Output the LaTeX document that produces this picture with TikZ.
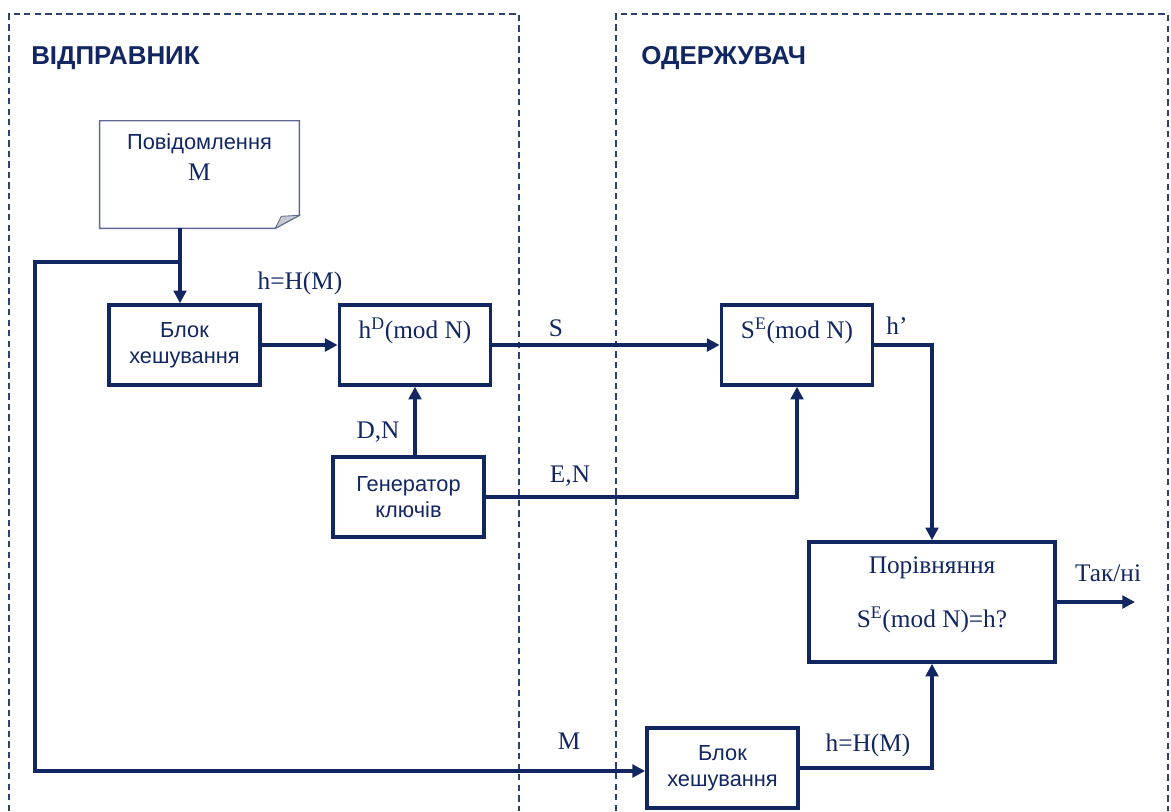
\documentclass[tikz,border=0pt]{standalone}
\usepackage{fontspec}
\setmainfont{Liberation Serif}
\newfontfamily\arialf{Liberation Sans}
\usetikzlibrary{arrows.meta,calc,positioning}
\definecolor{navy}{RGB}{18,38,98}
\definecolor{zonec}{RGB}{45,65,115}
\definecolor{paper}{RGB}{95,105,145}
\definecolor{foldc}{RGB}{200,202,210}
\tikzset{
  box/.style={draw=navy,line width=2.5pt,minimum width=3.78cm,minimum height=2cm,inner sep=0pt},
  doc/.style={minimum width=4.975cm,minimum height=2.675cm,inner sep=0pt},
  link/.style={navy,line width=2.6pt},
  arr/.style={link,-{Triangle[length=9pt,width=9pt]}},
  zone/.style={zonec,line width=1.2pt,dash pattern=on 4.5pt off 3pt},
  lbl/.style={text=navy,font=\fontsize{18}{21}\selectfont},
  slbl/.style={text=navy,font=\arialf\fontsize{15.5}{18.5}\selectfont,align=center},
  title/.style={text=navy,font=\arialf\bfseries\fontsize{18.4}{21}\selectfont,anchor=base west,inner sep=0pt},
}

\begin{document}
\begin{tikzpicture}[x={(0.025cm,0)},y={(0,-0.025cm)}]
    \useasboundingbox (0,0) rectangle (1171,811);
    % --- zones: sender and receiver ---
    \draw[zone] (9,811) -- (9,14) -- (519,14) -- (519,811);
    \draw[zone] (616,811) -- (616,14) -- (1168,14) -- (1168,811);
    \node[title] (sendt) at (31,64) {ВІДПРАВНИК};
    \node[title] (recvt) at (641,64) {ОДЕРЖУВАЧ};
    % --- sender side ---
    \begin{scope}
      \node[doc,label={[slbl,anchor=north,yshift=-6pt]north:{Повідомлення\\[3pt]{\rmfamily\fontsize{18}{21}\selectfont M}}}] (msg) at (199.5,174.5) {};
      \draw[paper,line width=1pt] (msg.north west) -- (msg.north east) -- ($(msg.south east)+(0,-13)$)
            -- ($(msg.south east)+(-24,0)$) -- (msg.south west) -- cycle;
      \fill[foldc,draw=paper,line width=0.6pt] ($(msg.south east)+(0,-13)$) -- ($(msg.south east)+(-24,0)$)
            -- ($(msg.south east)+(-18,-12)$) -- cycle;
      \node[box,slbl] (hash1) at (184.5,345) {Блок\\хешування};
      \node[box,label={[lbl,anchor=north,yshift=-7pt]north:{h\textsuperscript{D}(mod N)}}] (pow) at (415,345) {};
      \node[box,slbl] (gen) at (408.5,497) {Генератор\\ключів};
      \coordinate (split) at (180,262);
      \coordinate (lt) at (35,262);
      \coordinate (lb) at (35,771);
    \end{scope}
    % --- receiver side ---
    \begin{scope}
      \node[box,label={[lbl,anchor=north,yshift=-7pt]north:{S\textsuperscript{E}(mod N)}}] (ver) at (797,345) {};
      \node[box,minimum width=6.15cm,minimum height=3cm,
            label={[lbl,align=center,yshift=5pt]center:{Порівняння\\[17pt]S\textsuperscript{E}(mod N)=h?}}] (cmp) at (932,602) {};
      \node[box,slbl] (hash2) at (722.5,768) {Блок\\хешування};
      \coordinate (out) at (1135,602);
    \end{scope}
    % --- connectors ---
    \draw[link] (msg.south -| split) -- (split);
    \draw[arr] (split) -- (split |- hash1.north);
    \draw[arr] (split) -- (lt) -- (lb) -- (lb -| hash2.west);
    \draw[arr] (hash1.east) -- (pow.west);
    \draw[arr] (pow.east) -- (ver.west);
    \draw[arr] (pow.south |- gen.north) -- (pow.south);
    \draw[arr] (gen.east) -| (ver.south);
    \draw[arr] (ver.east) -| (cmp.north);
    \draw[arr] (hash2.east) -| (cmp.south);
    \draw[arr] (cmp.east) -- (out);
    % --- signal labels ---
    \node[lbl] (hm1) at (300,283) {h=H(M)};
    \node[lbl] (sig) at (556,328) {S};
    \node[lbl] (dn) at (378,432) {D,N};
    \node[lbl] (en) at (570,476) {E,N};
    \node[lbl] (hp) at (897,326) {h’};
    \node[lbl] (msgl) at (569,741) {M};
    \node[lbl] (hm2) at (868,745) {h=H(M)};
    \node[lbl] (yn) at (1108,573) {Так/ні};
\end{tikzpicture}
\end{document}
